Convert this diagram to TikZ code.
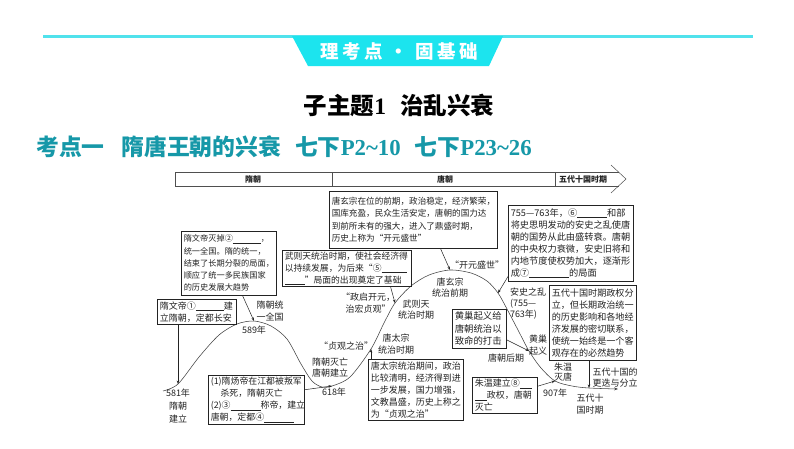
\documentclass[tikz,border=0pt]{standalone}
\usepackage{fontspec}
\setmainfont{Liberation Serif}
\newfontfamily\cjk{Noto Sans CJK SC}
\newfontfamily\lser{Liberation Serif}
\usetikzlibrary{arrows.meta}
\definecolor{cyanline}{RGB}{80,226,236}
\definecolor{cyantab}{RGB}{28,228,238}
\definecolor{kdteal}{RGB}{22,152,168}
\definecolor{ink}{RGB}{35,35,35}
\newcommand{\myblank}[1]{\rule[-1.5pt]{#1}{0.45pt}}
\newcommand{\fs}[2]{\cjk\fontsize{#1}{#2}\selectfont}
\begin{document}
\begin{tikzpicture}[x=1pt,y=-1pt,
  box/.style={draw=ink, line width=0.5pt, anchor=north west, align=left, inner xsep=2.5pt, inner ysep=1.5pt, text=ink},
  lbl/.style={align=center, inner sep=0pt, text=ink, font=\fs{9}{11.5}},
  arr/.style={draw=ink, line width=0.5pt, -{Stealth[length=3.5pt,width=2.6pt]}},
  curve/.style={draw=ink!85, line width=0.55pt},
  bar/.style={draw=ink!80, line width=0.5pt},
  barlbl/.style={font=\cjk\bfseries\fontsize{8}{9}\selectfont, text=ink, inner sep=0pt}]

\useasboundingbox (0,0) rectangle (794,448);
\fill[white] (0,0) rectangle (794,448);

% header
\fill[cyanline] (43,35) rectangle (753,37.5);
\fill[cyantab] (292,36) -- (503,36) -- (489,66) -- (308,66) -- cycle;
\node[font=\cjk\bfseries\fontsize{18.5}{20}\selectfont, text=white] (tab) at (399,51)
  {理\hspace{3.5pt}考\hspace{3.5pt}点\hspace{7pt}·\hspace{7pt}固\hspace{3.5pt}基\hspace{3.5pt}础};
\node[font=\cjk\bfseries\fontsize{23.5}{25}\selectfont, text=black] (title) at (399,105)
  {子主题{\lser\bfseries 1}\hspace{14pt}治乱兴衰};
\node[anchor=west, font=\cjk\bfseries\fontsize{22.8}{25}\selectfont, text=kdteal, inner sep=0pt] (kd) at (36,147)
  {考点一\hspace{17pt}隋唐王朝的兴衰\hspace{14pt}七下{\lser\bfseries P2\char"007E 10}\hspace{14pt}七下{\lser\bfseries P23\char"007E 26}};

% timeline bar
\draw[bar] (175,172) -- (619,172);
\draw[bar] (175,186) -- (619,186);
\draw[bar] (175,172) -- (175,186);
\draw[bar] (332,172) -- (332,186);
\draw[bar] (555,172) -- (555,186);
\draw[bar] (611,165) -- (626,179) -- (611,193);
\node[barlbl] (bsui) at (253,179.5) {隋朝};
\node[barlbl] (btang) at (445,179.5) {唐朝};
\node[barlbl] (bwd) at (583,179.5) {五代十国时期};

% curve points
\coordinate (p581) at (178,384);
\coordinate (p589) at (254,321);
\coordinate (p618) at (332,386);
\coordinate (pzg) at (371,349);
\coordinate (pzq) at (395,303);
\coordinate (pky) at (450,270);
\coordinate (pas) at (498,293);
\coordinate (phc) at (529,351);
\coordinate (p907) at (555,381);
\coordinate (pwd) at (589,388);
\coordinate (pend) at (618,389);

\draw[curve, -{Stealth[length=4pt,width=3pt]}] plot[smooth, tension=0.5] coordinates {(163,391) (p581) (199,357) (219,335) (237,324) (p589) (271,326) (287,339) (301,364) (312,381) (322,387) (p618) (350,377) (pzg) (384,323) (pzq) (411,286) (429,275) (pky) (471,273) (487,281) (pas) (507,309) (518,330) (phc) (541,368) (p907) (572,386) (pwd) (pend)};

% boxes
\node[box, text width=90pt, minimum height=64pt, font=\fs{8.2}{12.3}] (boxA) at (181,231)
  {隋文帝灭掉②\myblank{28pt}，\\统一全国。隋的统一，\\结束了长期分裂的局面，\\顺应了统一多民族国家\\的历史发展大趋势};
\node[box, text width=124pt, minimum height=36pt, font=\fs{8.8}{12}] (boxB) at (282,250)
  {武则天统治时期，使社会经济得\\以持续发展，为后来“⑤\myblank{25pt}\\\myblank{20pt}”局面的出现奠定了基础};
\node[box, text width=163pt, minimum height=57pt, font=\fs{8.6}{12.3}] (boxC) at (329,191)
  {唐玄宗在位的前期，政治稳定，经济繁荣，\\国库充盈，民众生活安定，唐朝的国力达\\到前所未有的强大，进入了鼎盛时期，\\历史上称为“开元盛世”};
\node[box, text width=74pt, minimum height=25pt, font=\fs{9}{12}] (boxD) at (157,299)
  {隋文帝①\myblank{28pt}建\\立隋朝，定都长安};
\node[box, text width=91pt, minimum height=49pt, font=\fs{8.9}{12}] (boxE) at (208,375)
  {(1)隋炀帝在江都被叛军\\\hspace*{1.1em}杀死，隋朝灭亡\\(2)③\myblank{30pt}称帝，建立\\唐朝，定都④\myblank{30pt}};
\node[box, text width=90pt, minimum height=61pt, font=\fs{9}{12}] (boxF) at (368,359)
  {唐太宗统治期间，政治\\比较清明，经济得到进\\一步发展，国力增强，\\文教昌盛，历史上称之\\为“贞观之治”};
\node[box, text width=120pt, minimum height=76pt, font=\fs{9.2}{12}] (boxH) at (508,205)
  {755—763年，⑥\myblank{30pt}和部\\将史思明发动的安史之乱使唐\\朝的国势从此由盛转衰。唐朝\\的中央权力衰微，安史旧将和\\内地节度使权势加大，逐渐形\\成⑦\myblank{40pt}的局面};
\node[box, text width=82pt, minimum height=75pt, font=\fs{9.1}{12}] (boxG) at (549,285)
  {五代十国时期政权分\\立，但长期政治统一\\的历史影响和各地经\\济发展的密切联系，\\使统一始终是一个客\\观存在的必然趋势};
\node[box, text width=49pt, minimum height=39pt, font=\fs{9.4}{12.6}] (boxI) at (452,309)
  {黄巢起义给\\唐朝统治以\\致命的打击};
\node[box, text width=60pt, minimum height=36pt, font=\fs{9}{12}] (boxJ) at (472,377)
  {朱温建立⑧\myblank{12pt}\\\myblank{12pt}政权，唐朝\\灭亡};

% connectors
\draw[arr] (boxD.south -| p581) -- (p581);
\draw[arr] ([xshift=-34pt]boxA.south east) -- (p589);
\draw[arr] ([yshift=10pt]boxE.east) -- (p618);
\draw[arr] ([xshift=3pt]boxF.north west) -- (pzg);
\draw[arr] ([xshift=-21pt]boxB.south east) -- (pzq);
\draw[arr] ([xshift=-57pt]boxC.south east) -- (pky);
\draw[arr] ([yshift=5pt]boxH.south west) -- (pas);
\draw[arr] ([yshift=-11pt]boxI.east) -- (phc);
\draw[arr] ([yshift=9pt]boxJ.east) -- (p907);
\draw[arr] (boxG.south -| pwd) -- (pwd);

% labels
\node[lbl] (l589a) at (270,311) {隋朝统\\一全国};
\node[lbl] (l589) at (254,330) {589年};
\node[lbl, font=\fs{9}{12.8}] (l581) at (178,406) {581年\\隋朝\\建立};
\node[lbl] (l618a) at (330,367.5) {隋朝灭亡\\唐朝建立};
\node[lbl] (l618) at (334,392) {618年};
\node[lbl] (lzg) at (346,346) {“贞观之治”};
\node[lbl] (ltz) at (396,344) {唐太宗\\统治时期};
\node[lbl, font=\fs{9}{12}] (lzq) at (368,303) {“政启开元，\\治宏贞观”};
\node[lbl] (lwz) at (416,309.5) {武则天\\统治时期};
\node[lbl] (lxz) at (450,287.5) {唐玄宗\\统治前期};
\node[lbl] (lky) at (477,265) {“开元盛世”};
\node[lbl, align=left, font=\fs{9}{11}] (las) at (528,304) {安史之乱\\(755—\\763年)};
\node[lbl] (lhc) at (538,345) {黄巢\\起义};
\node[lbl] (lth) at (506,358) {唐朝后期};
\node[lbl, font=\fs{9}{10.5}] (lzw) at (563,372) {朱温\\灭唐};
\node[lbl] (l907) at (555,393) {907年};
\node[lbl] (lwd) at (590,404) {五代十\\国时期};
\node[lbl, font=\fs{9}{11}] (lgd) at (615,377.5) {五代十国的\\更迭与分立};
\end{tikzpicture}
\end{document}
